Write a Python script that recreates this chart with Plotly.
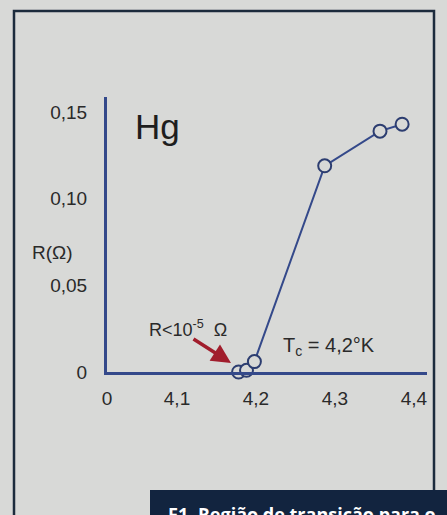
import plotly.graph_objects as go

# Data
temperature_K = [4.178, 4.188, 4.198, 4.287, 4.357, 4.385]
resistance_ohm = [0.0, 0.001, 0.006, 0.119, 0.139, 0.143]

x_tick_vals = [4.0114, 4.1, 4.2, 4.3, 4.4]
x_tick_text = ["0", "4,1", "4,2", "4,3", "4,4"]
y_tick_vals = [0, 0.05, 0.10, 0.15]
y_tick_text = ["0", "0,05", "0,10", "0,15"]

W, H = 447, 515
L, R, T, B = 107, 20, 97, 143
PW, PH = W - L - R, H - T - B


def px(x):
    return (x - L) / PW


def py(y):
    return (H - B - y) / PH


BG = "#d8d9d7"
AXIS = "#34498a"
LINE = "#34498a"
MARK = "#2c3d70"
TXT = "#2a2a2a"
FONT = "Liberation Sans, Arial, sans-serif"

fig = go.Figure()
fig.add_trace(go.Scatter(
    x=temperature_K, y=resistance_ohm, mode="lines+markers",
    line=dict(color=LINE, width=2),
    marker=dict(size=13, color=BG, line=dict(color=MARK, width=2)),
    cliponaxis=False, hoverinfo="skip", showlegend=False,
))

fig.update_layout(
    width=W, height=H,
    margin=dict(l=L, r=R, t=T, b=B),
    paper_bgcolor=BG, plot_bgcolor="rgba(0,0,0,0)",
    font=dict(family=FONT, color=TXT, size=19),
    xaxis=dict(range=[4.0114, 4.4165], tickvals=x_tick_vals, ticktext=x_tick_text,
               showgrid=False, zeroline=False, showline=True, linecolor=AXIS, linewidth=3,
               ticks="", ticklabelstandoff=7, tickfont=dict(size=19, color=TXT)),
    yaxis=dict(range=[0, 0.1587], tickvals=y_tick_vals, ticktext=y_tick_text,
               showgrid=False, zeroline=False, showline=True, linecolor=AXIS, linewidth=3,
               ticks="", ticklabelstandoff=13, tickfont=dict(size=19, color=TXT)),
)

shapes = [
    # outer frame
    dict(type="rect", xref="paper", yref="paper", x0=px(14), x1=px(434), y0=py(525), y1=py(11),
         line=dict(color="#1c2b3c", width=2.5), fillcolor="rgba(0,0,0,0)", layer="below"),
    # caption box
    dict(type="rect", xref="paper", yref="paper", x0=px(150), x1=px(460), y0=py(530), y1=py(490),
         line=dict(width=0), fillcolor="#12243f", layer="above"),
]
fig.update_layout(shapes=shapes)

NB = "\u00a0"
annotations = [
    dict(text="Hg", x=px(133), y=py(126), xanchor="left", yanchor="middle",
         font=dict(size=35, color="#1e1e1e")),
    dict(text="R(\u03a9)", x=px(52), y=py(252), xanchor="center", yanchor="middle",
         font=dict(size=19, color=TXT)),
    dict(text="R<10<sup>-5</sup>" + NB + NB + "\u03a9", x=px(147), y=py(328), xanchor="left", yanchor="middle",
         font=dict(size=18, color=TXT)),
    dict(text="T<sub>c</sub> = 4,2\u00b0K", x=px(281), y=py(346), xanchor="left", yanchor="middle",
         font=dict(size=20, color=TXT)),
    dict(text="", x=px(231), y=py(363), ax=-39, ay=-25, showarrow=True,
         arrowhead=2, arrowsize=1.1, arrowwidth=3.5, arrowcolor="#a11d2c"),
    dict(text="<b>F1. Região de transição para o</b>", x=px(166), y=py(500), xanchor="left", yanchor="top",
         font=dict(size=18, color="#ffffff", family="Open Sans, sans-serif")),
]
for a in annotations:
    a.setdefault("xref", "paper")
    a.setdefault("yref", "paper")
    a.setdefault("showarrow", False)
fig.update_layout(annotations=annotations)

fig.write_html("out.html", config={"displayModeBar": False},
               post_script="document.body.style.margin='0';document.body.style.overflow='hidden';")
